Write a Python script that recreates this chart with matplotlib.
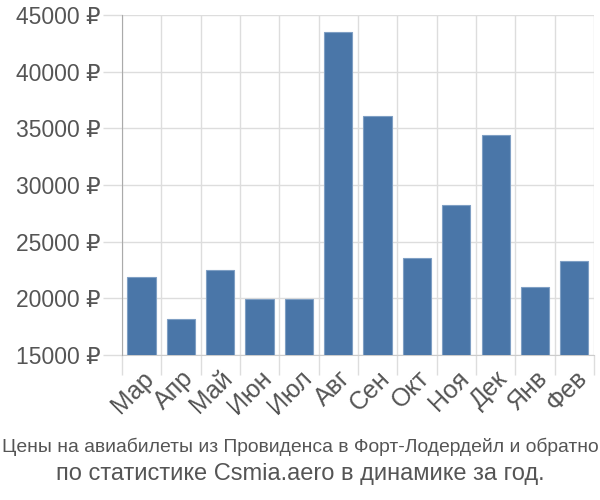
import matplotlib
matplotlib.use("Agg")
import matplotlib.pyplot as plt
import numpy as np

months = ["Мар", "Апр", "Май", "Июн", "Июл", "Авг", "Сен", "Окт", "Ноя", "Дек", "Янв", "Фев"]
prices = [21850, 18150, 22500, 19900, 19900, 43500, 36100, 23550, 28250, 34450, 21000, 23300]
yticks = [15000, 20000, 25000, 30000, 35000, 40000, 45000]

plt.rcParams["font.family"] = ["Liberation Sans", "DejaVu Sans"]

fig = plt.figure(figsize=(6, 5), dpi=100)
ax = fig.add_axes([0.2033, 0.29, 0.7867, 0.68])

ind = np.arange(len(months))
ax.bar(ind, prices, 0.72, color="#4a76a8", edgecolor="#7f9fc4", linewidth=0.8, zorder=3)

ax.set_xlim(-0.5, len(months) - 0.5)
ax.set_ylim(15000, 45000)
ax.set_yticks(yticks)
ax.set_yticklabels([f"{v} ₽" for v in yticks])
ax.set_xticks(ind)
ax.set_xticklabels(months, rotation=45, ha="right", rotation_mode="anchor")
ax.set_xticks(np.arange(-0.5, len(months)), minor=True)

ax.grid(axis="y", color="#dddddd", linewidth=1, zorder=0)
ax.grid(axis="x", which="minor", color="#dddddd", linewidth=1, zorder=0)
ax.tick_params(axis="y", length=13.7, color="#dddddd", width=1, labelsize=16.5, labelcolor="#555555", pad=1.5)
ax.tick_params(axis="x", which="major", length=0, labelsize=18, labelcolor="#555555", pad=8)
ax.tick_params(axis="x", which="minor", length=14.4, color="#dddddd", width=1)

for s in ["top", "right"]:
    ax.spines[s].set_visible(False)
ax.spines["left"].set_color("#aaaaaa")
ax.spines["bottom"].set_color("#cccccc")
ax.spines["left"].set_zorder(4)

fig.text(0.5, 0.106, "Цены на авиабилеты из Провиденса в Форт-Лодердейл и обратно",
         ha="center", va="center", fontsize=13.9, color="#555555")
fig.text(0.5, 0.052, "по статистике Csmia.aero в динамике за год.",
         ha="center", va="center", fontsize=17, color="#555555")

fig.savefig("out.png", dpi=100)
